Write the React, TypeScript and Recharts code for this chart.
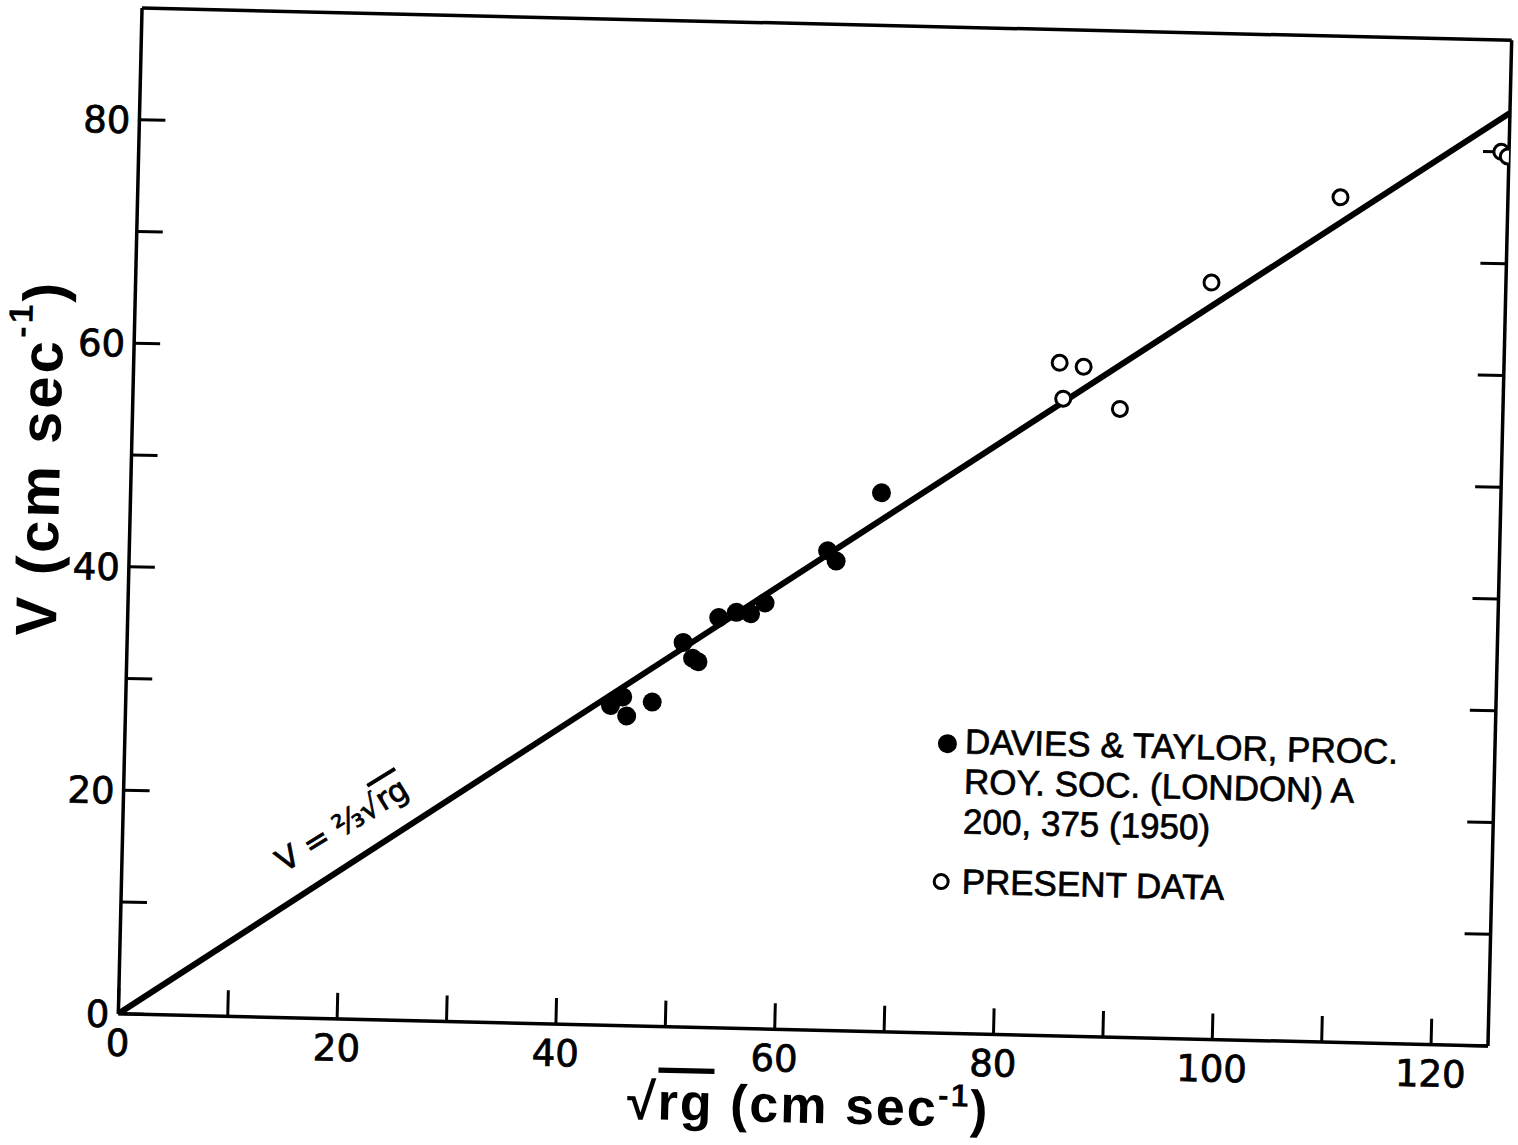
import { ScatterChart, Scatter, XAxis, YAxis, Legend, Label } from 'recharts';

const INK = '#000';
const FONT = '"DejaVu Sans", sans-serif';
const TITLE_FONT = '"Liberation Sans", Arial, sans-serif';

// Davies & Taylor points (filled dots)
const daviesX = [44.3, 45.4, 45.8, 48.1, 50.8, 51.7, 52.2, 54.0, 55.6, 56.9, 58.2, 63.8, 64.6, 68.6];
const daviesY = [28.6, 29.4, 27.7, 29.0, 34.4, 33.0, 32.7, 36.7, 37.2, 37.1, 38.1, 42.9, 42.0, 48.2];

// present data (open circles)
const presentX = [84.6, 86.8, 85.0, 90.2, 98.3, 109.9, 124.5, 125.1];
const presentY = [60.2, 59.9, 57.0, 56.2, 67.7, 75.6, 80.0, 79.6];

// V = 2/3 sqrt(rg) line, end points
const lineX = [0, 125.2];
const lineY = [0, 83.5];

// where the equation text sits
const eqX = [20.0];
const eqY = [17.4];

const X_MAX = 125.2;
const Y_MAX = 90;
const xTicks = [0, 10, 20, 30, 40, 50, 60, 70, 80, 90, 100, 110, 120];
const yTicks = [0, 10, 20, 30, 40, 50, 60, 70, 80];
const TICK_LEN = 26;

const zip = (xs: number[], ys: number[]) => xs.map((x, i) => ({ x, y: ys[i] }));

const davies = zip(daviesX, daviesY);
const present = zip(presentX, presentY);
const fitLine = zip(lineX, lineY);
const eqPoint = zip(eqX, eqY);

const frameLine = { stroke: INK, strokeWidth: 3.5 };
const tickLine = { stroke: INK, strokeWidth: 3 };
const noLabel = () => <g />;

// labels only every 20, drawn outside the frame (axis is mirrored so the tick marks point in)
const renderXTick = (props: any) => {
  const { x, y, payload } = props;
  if (payload.value % 20 !== 0) return <g />;
  const axisY = y + TICK_LEN;
  return (
    <text x={x} y={axisY + 42} textAnchor="middle" fontFamily={FONT} fontSize={37} fill={INK} stroke={INK} strokeWidth={0.8}>
      {payload.value}
    </text>
  );
};

const renderYTick = (props: any) => {
  const { x, y, payload } = props;
  if (payload.value % 20 !== 0) return <g />;
  const axisX = x - TICK_LEN;
  return (
    <text x={axisX - 9} y={y + 13.5} textAnchor="end" fontFamily={FONT} fontSize={37} fill={INK} stroke={INK} strokeWidth={0.8}>
      {payload.value}
    </text>
  );
};

const renderEquation = (props: any) => {
  const { cx, cy } = props;
  return (
    <text
      x={cx}
      y={cy}
      transform={`rotate(-33 ${cx} ${cy})`}
      textAnchor="middle"
      dominantBaseline="central"
      fontFamily={FONT}
      fontSize={31}
      fill={INK}
      stroke={INK}
      strokeWidth={0.8}
    >
      V = ⅔√<tspan style={{ textDecoration: 'overline' }}>rg</tspan>
    </text>
  );
};

const renderXTitle = (props: any) => {
  const vb = props.viewBox || { x: 0, y: 0 };
  return (
    <text
      x={vb.x + 692}
      y={vb.y + 93}
      textAnchor="middle"
      fontFamily={TITLE_FONT}
      fontWeight="bold"
      fontSize={52}
      letterSpacing={2}
      fill={INK}
    >
      √<tspan style={{ textDecoration: 'overline' }}>rg</tspan> (cm sec
      <tspan dy={-20} fontSize={32}>-1</tspan>
      <tspan dy={20}>)</tspan>
    </text>
  );
};

const renderYTitle = (props: any) => {
  const vb = props.viewBox || { x: 0, y: 0 };
  const x = vb.x + 38;
  const y = vb.y + 452;
  return (
    <text
      x={x}
      y={y}
      transform={`rotate(-90 ${x} ${y})`}
      textAnchor="middle"
      dominantBaseline="central"
      fontFamily={TITLE_FONT}
      fontWeight="bold"
      fontSize={58}
      letterSpacing={3}
      fill={INK}
    >
      V (cm sec
      <tspan dy={-22} fontSize={34}>-1</tspan>
      <tspan dy={22}>)</tspan>
    </text>
  );
};

const legendText = {
  position: 'absolute' as const,
  left: 45,
  lineHeight: '40px',
  whiteSpace: 'nowrap' as const,
  WebkitTextStroke: '0.7px #000',
};

const renderLegend = () => (
  <div style={{ position: 'relative', width: 580, height: 200, fontFamily: TITLE_FONT, fontSize: 35, color: INK }}>
    <span style={{ position: 'absolute', left: 18, top: 19, width: 19, height: 19, borderRadius: '50%', background: INK }} />
    <div style={{ ...legendText, top: 6 }}>
      <div>DAVIES &amp; TAYLOR, PROC.</div>
      <div>ROY. SOC. (LONDON) A</div>
      <div>200, 375 (1950)</div>
    </div>
    <span
      style={{
        position: 'absolute',
        left: 16,
        top: 158,
        width: 11,
        height: 11,
        borderRadius: '50%',
        border: `3px solid ${INK}`,
        background: '#fff',
      }}
    />
    <div style={{ ...legendText, top: 146 }}>PRESENT DATA</div>
  </div>
);

export default function App() {
  return (
    <div style={{ position: 'absolute', left: 0, top: 0, width: 1518, height: 1145, overflow: 'hidden', background: '#fff' }}>
      {/* the scanned figure sits slightly turned */}
      <div style={{ transform: 'rotate(1.35deg)', transformOrigin: '815px 527px' }}>
        <ScatterChart width={1518} height={1145} margin={{ top: 24, right: 18, bottom: 0, left: 0 }}>
          <XAxis
            xAxisId="b"
            type="number"
            dataKey="x"
            domain={[0, X_MAX]}
            allowDataOverflow
            ticks={xTicks}
            interval={0}
            mirror
            tick={renderXTick}
            tickSize={TICK_LEN}
            tickMargin={0}
            axisLine={frameLine}
            tickLine={tickLine}
          />
          <XAxis
            xAxisId="t"
            orientation="top"
            type="number"
            domain={[0, X_MAX]}
            allowDataOverflow
            ticks={xTicks}
            interval={0}
            mirror
            tick={noLabel}
            tickSize={TICK_LEN}
            axisLine={frameLine}
            tickLine={tickLine}
          />
          <YAxis
            yAxisId="l"
            type="number"
            dataKey="y"
            domain={[0, Y_MAX]}
            allowDataOverflow
            ticks={yTicks}
            interval={0}
            mirror
            tick={renderYTick}
            tickSize={TICK_LEN}
            tickMargin={0}
            axisLine={frameLine}
            tickLine={tickLine}
          />
          <YAxis
            yAxisId="r"
            orientation="right"
            type="number"
            domain={[0, Y_MAX]}
            allowDataOverflow
            ticks={yTicks}
            interval={0}
            mirror
            tick={noLabel}
            tickSize={TICK_LEN}
            axisLine={frameLine}
            tickLine={tickLine}
          />
          {/* room for the titles */}
          <XAxis
            xAxisId="bl"
            type="number"
            domain={[0, X_MAX]}
            allowDataOverflow
            height={115}
            axisLine={false}
            tickLine={false}
            tick={false}
          >
            <Label content={renderXTitle} />
          </XAxis>
          <YAxis
            yAxisId="ll"
            type="number"
            domain={[0, Y_MAX]}
            allowDataOverflow
            width={130}
            axisLine={false}
            tickLine={false}
            tick={false}
          >
            <Label content={renderYTitle} />
          </YAxis>

          <Scatter
            xAxisId="b"
            yAxisId="l"
            data={fitLine}
            line={{ stroke: INK, strokeWidth: 6 }}
            shape={() => <g />}
            isAnimationActive={false}
          />
          <Scatter
            xAxisId="b"
            yAxisId="l"
            data={davies}
            shape={(p: any) => <circle cx={p.cx} cy={p.cy} r={9.5} fill={INK} />}
            isAnimationActive={false}
          />
          <Scatter
            xAxisId="b"
            yAxisId="l"
            data={present}
            shape={(p: any) => <circle cx={p.cx} cy={p.cy} r={7.5} fill="#fff" stroke={INK} strokeWidth={3} />}
            isAnimationActive={false}
          />
          <Scatter xAxisId="b" yAxisId="l" data={eqPoint} shape={renderEquation} isAnimationActive={false} />

          <Legend
            content={renderLegend}
            layout="vertical"
            align="center"
            verticalAlign="middle"
            wrapperStyle={{ left: 925, top: 712, width: 580 }}
          />
        </ScatterChart>
      </div>
    </div>
  );
}
